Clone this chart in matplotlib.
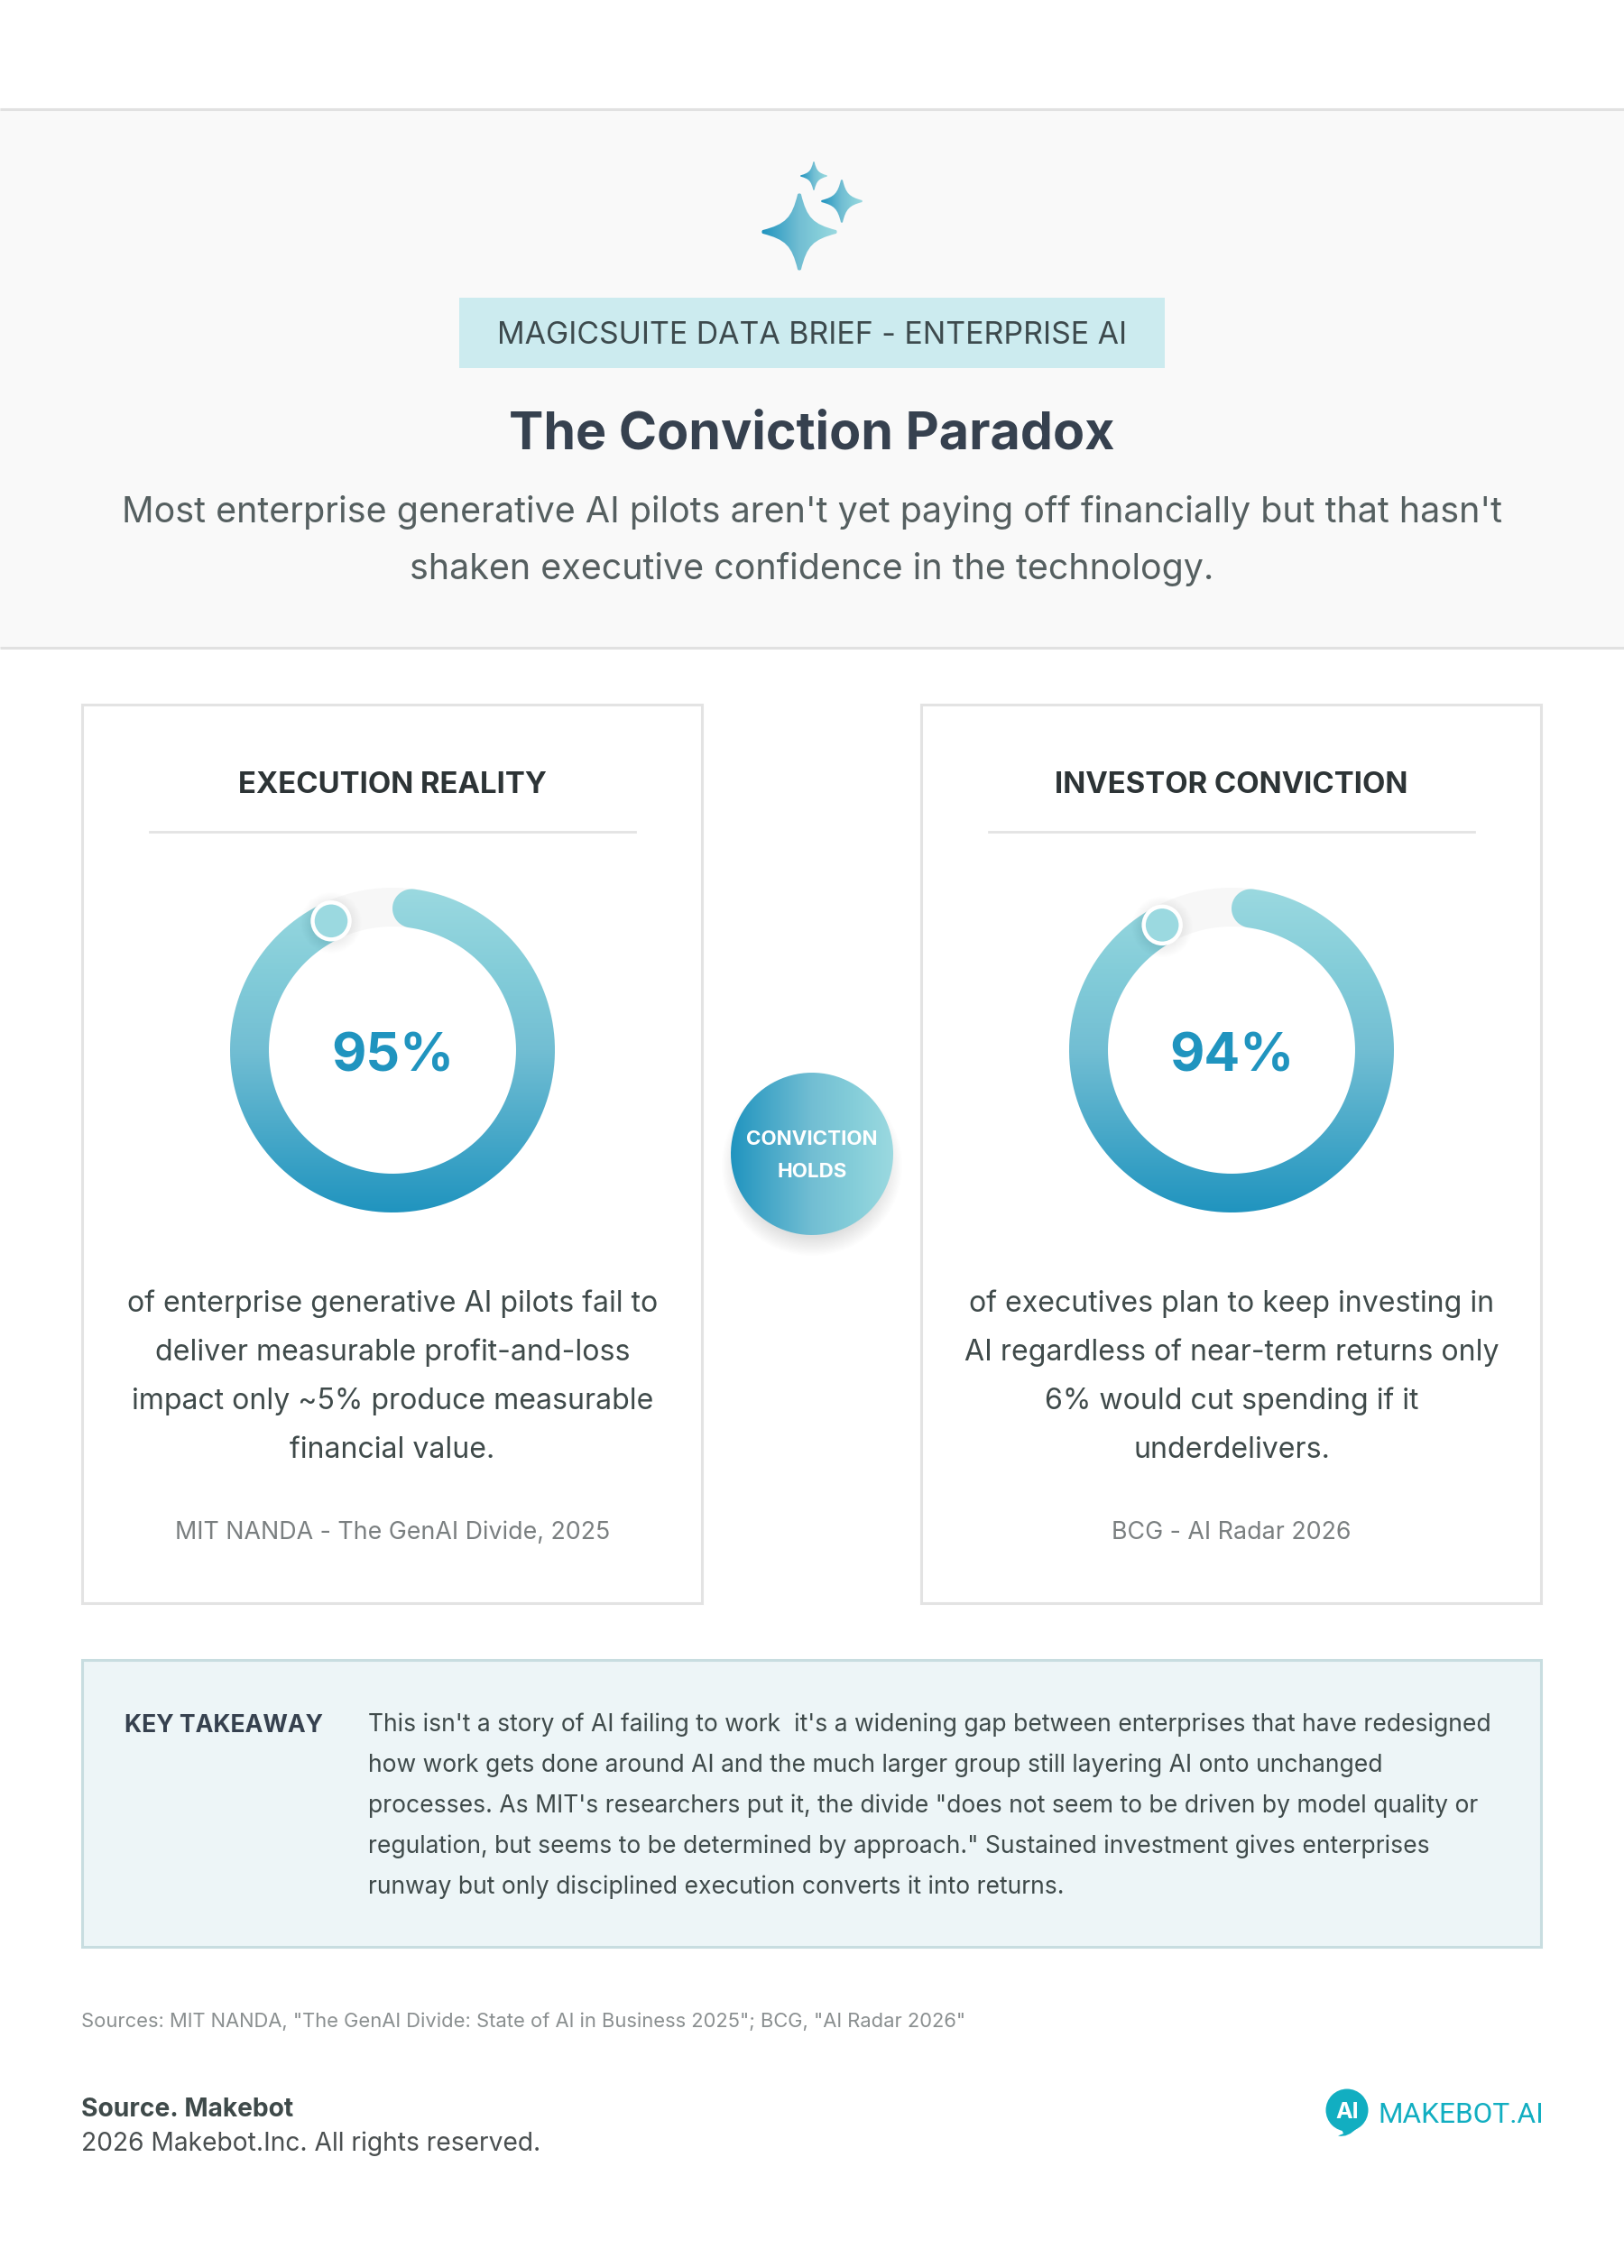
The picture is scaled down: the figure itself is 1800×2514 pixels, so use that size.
#!/usr/bin/env python3
import numpy as np
import matplotlib
matplotlib.use("Agg")
import matplotlib.pyplot as plt
from matplotlib.colors import LinearSegmentedColormap
from matplotlib.patches import Circle, PathPatch, Rectangle
from matplotlib.path import Path

W, H = 1800, 2514
FONT = ["Inter", "DejaVu Sans"]
plt.rcParams["font.family"] = FONT

# --- data ---
badge_text = "MAGICSUITE DATA BRIEF - ENTERPRISE AI"
title_text = "The Conviction Paradox"
subtitle_lines = ["Most enterprise generative AI pilots aren't yet paying off financially but that hasn't",
                  "shaken executive confidence in the technology."]
card_titles = ["EXECUTION REALITY", "INVESTOR CONVICTION"]
card_values = [95, 94]
card_bodies = [["of enterprise generative AI pilots fail to", "deliver measurable profit-and-loss",
                "impact only ~5% produce measurable", "financial value."],
               ["of executives plan to keep investing in", "AI regardless of near-term returns only",
                "6% would cut spending if it", "underdelivers."]]
card_sources = ["MIT NANDA - The GenAI Divide, 2025", "BCG - AI Radar 2026"]
bubble_lines = ["CONVICTION", "HOLDS"]
takeaway_label = "KEY TAKEAWAY"
takeaway_lines = ["This isn't a story of AI failing to work  it's a widening gap between enterprises that have redesigned",
                  "how work gets done around AI and the much larger group still layering AI onto unchanged",
                  "processes. As MIT's researchers put it, the divide \"does not seem to be driven by model quality or",
                  "regulation, but seems to be determined by approach.\" Sustained investment gives enterprises",
                  "runway but only disciplined execution converts it into returns."]
sources_text = "Sources: MIT NANDA, \"The GenAI Divide: State of AI in Business 2025\"; BCG, \"AI Radar 2026\""
footer_bold = "Source. Makebot"
footer_text = "2026 Makebot.Inc. All rights reserved."
logo_text = "MAKEBOT.AI"

DARK, LIGHT = "#2094BF", "#9BD9E0"
grad = LinearSegmentedColormap.from_list("teal", [(0, DARK), (0.5, "#72BED3"), (0.75, "#84CDD9"), (1, LIGHT)])

fig = plt.figure(figsize=(W / 100, H / 100), dpi=100, facecolor="white")
ax = fig.add_axes([0, 0, 1, 1])
ax.set_xlim(0, W)
ax.set_ylim(H, 0)
ax.axis("off")


def txt(x, y, s, size, color, ha="center", weight="normal", **kw):
    return ax.text(x, y, s, fontsize=size, color=color, ha=ha, va="baseline", weight=weight, **kw)


def gradient_fill(path, box, vertical, zorder):
    # box = x0, x1, y0, y1 in pixels; colour runs dark -> light
    x0, x1, y0, y1 = box
    ramp = np.linspace(0, 1, 256)
    # vertical: light on top, dark at the bottom
    img = (1 - ramp)[:, None] if vertical else ramp[None, :]
    im = ax.imshow(img, cmap=grad, vmin=0, vmax=1, extent=(x0, x1, y1, y0), aspect="auto",
                   origin="upper", zorder=zorder, interpolation="bilinear")
    im.set_clip_path(PathPatch(path, transform=ax.transData))


def soft_circle(x, y, r, spread, alpha, zorder, color="black", steps=16):
    for i in range(steps):
        rr = r + spread * (1 - i / steps)
        ax.add_patch(Circle((x, y), rr, fc=color, ec="none", alpha=alpha / steps, zorder=zorder))


def polar(cx, cy, r, deg):
    t = np.radians(deg)
    return cx + r * np.sin(t), cy - r * np.cos(t)


def ring_path(cx, cy, r_out, r_in, start, end):
    mid, half = (r_out + r_in) / 2, (r_out - r_in) / 2
    a = np.linspace(start, end, 300)
    ox, oy = polar(cx, cy, r_out, a)
    ix, iy = polar(cx, cy, r_in, a[::-1])
    # round cap on the start of the arc
    sx, sy = polar(cx, cy, mid, start)
    c = np.radians(np.linspace(180, 360, 40) + start)
    capx = sx + half * np.sin(c)
    capy = sy - half * np.cos(c)
    return Path(np.c_[np.r_[ox, ix, capx, ox[0]], np.r_[oy, iy, capy, oy[0]]])


def star_path(cx, cy, rx, ry):
    # four point star, one quarter rotated round the centre, tips a little rounded
    t, b, p, q = 0.045, 1.02, 0.2, 0.36
    quarter = [(t, -0.97), (p, -q), (q, -p), (0.97, -t), (b, 0.0), (0.97, t)]
    codes = [Path.CURVE4, Path.CURVE4, Path.CURVE4, Path.CURVE3, Path.CURVE3]
    pts = []
    kinds = []
    for turn in range(4):
        for (u, v) in quarter[1:]:
            for _ in range(turn):
                u, v = -v, u
            pts.append((u, v))
        kinds += codes
    first = pts[-1]
    v = [first] + pts
    c = [Path.MOVETO] + kinds
    return Path([(cx + a * rx, cy + d * ry) for a, d in v], c)


# --- header band ---
ax.add_patch(Rectangle((0, 120), W, 598, fc="#F9F9F9", ec="none", zorder=1))
ax.plot([0, W], [120.5, 120.5], color="#E1E1E1", lw=2.2, zorder=2, solid_capstyle="butt")
ax.plot([0, W], [718, 718], color="#E1E1E1", lw=2.2, zorder=2, solid_capstyle="butt")

for cx, cy, rx, ry in [(886, 257, 42, 43), (933, 223, 23, 24), (902, 195, 15, 16)]:
    gradient_fill(star_path(cx, cy, rx, ry), (cx - rx, cx + rx, cy - ry, cy + ry), False, 3)

ax.add_patch(Rectangle((509, 330), 782, 78, fc="#CCEBEF", ec="none", zorder=2))
txt(900, 381, badge_text, 24.4, "#3D4A4D", zorder=3)
txt(900, 497, title_text, 41.3, "#36414F", weight="bold", zorder=3)
for y, line in zip([579, 642], subtitle_lines):
    txt(900, y, line, 28.4, "#555F60", zorder=3)

# --- cards ---
for i, x0 in enumerate([91, 1021]):
    cx = x0 + 344
    ax.add_patch(Rectangle((x0, 781), 687, 996, fc="white", ec="#E3E3E3", lw=2.2, zorder=2))
    txt(cx, 879, card_titles[i], 23.7, "#2D3436", weight="bold", zorder=3)
    ax.plot([cx - 269, cx + 269], [922, 922], color="#E3E3E3", lw=2, zorder=3)

    # ring
    cy, r_out, r_in = 1164, 180, 137
    value = card_values[i]
    start, end = 7.8, value * 3.6 - 7.4
    a = np.linspace(0, 360, 361)
    rx, ry = polar(cx, cy, r_out, a)
    ix, iy = polar(cx, cy, r_in, a[::-1])
    ax.add_patch(PathPatch(Path(np.c_[np.r_[rx, ix], np.r_[ry, iy]]), fc="#F7F7F7", ec="none", zorder=3))
    gradient_fill(ring_path(cx, cy, r_out, r_in, start, end), (cx - r_out, cx + r_out, cy - r_out, cy + r_out), True, 4)
    dx, dy = polar(cx, cy, 158.5, end)
    soft_circle(dx, dy + 2, 22, 12, 0.09, 5)
    ax.add_patch(Circle((dx, dy), 20.5, fc=LIGHT, ec="white", lw=3.2, zorder=6))
    txt(cx, 1187, f"{value}%", 42.5, DARK, weight="bold", zorder=7)

    for y, line in zip([1454, 1508, 1562, 1616], card_bodies[i]):
        txt(cx, y, line, 23.1, "#3F4A4A", zorder=3)
    txt(cx, 1706, card_sources[i], 19.3, "#7A7F80", zorder=3)

# --- bubble between the cards ---
soft_circle(900, 1292, 78, 22, 0.12, 3)
theta = np.linspace(0, 2 * np.pi, 200)
gradient_fill(Path(np.c_[900 + 90 * np.cos(theta), 1279 + 90 * np.sin(theta)]), (810, 990, 1189, 1369), False, 4)
for y, line in zip([1269, 1305], bubble_lines):
    txt(900, y, line, 16.1, "white", weight="bold", zorder=5)

# --- takeaway ---
ax.add_patch(Rectangle((91, 1840), 1617, 318, fc="#EDF5F7", ec="#C8DDE0", lw=2.2, zorder=2))
txt(138, 1920, takeaway_label, 19.1, "#36414F", ha="left", weight="bold", zorder=3)
for y, line in zip([1919, 1964, 2009, 2054, 2099], takeaway_lines):
    txt(408, y, line, 19.05, "#3F4A4A", ha="left", zorder=3)

# --- footer ---
txt(90, 2247, sources_text, 15.8, "#8A8F90", ha="left")
txt(90, 2346, footer_bold, 20.3, "#3F4A4A", ha="left", weight="bold")
txt(90, 2384, footer_text, 20.3, "#4A4F50", ha="left")

LOGO = "#12AEC1"
ax.add_patch(Circle((1493, 2339), 23.5, fc=LOGO, ec="none", zorder=2))
ax.add_patch(PathPatch(Path([(1486, 2358), (1489, 2365), (1483, 2367.5), (1494, 2370), (1505, 2358), (1486, 2358)],
                            [Path.MOVETO, Path.LINETO, Path.LINETO, Path.CURVE3, Path.CURVE3, Path.LINETO]),
                       fc=LOGO, ec="none", zorder=2))
txt(1493, 2348, "AI", 18, "white", weight="bold", zorder=3)
txt(1527, 2353, logo_text, 22.7, LOGO, ha="left", family=["Roboto", "DejaVu Sans"], zorder=3)

fig.savefig("out.png", dpi=100, facecolor="white")
